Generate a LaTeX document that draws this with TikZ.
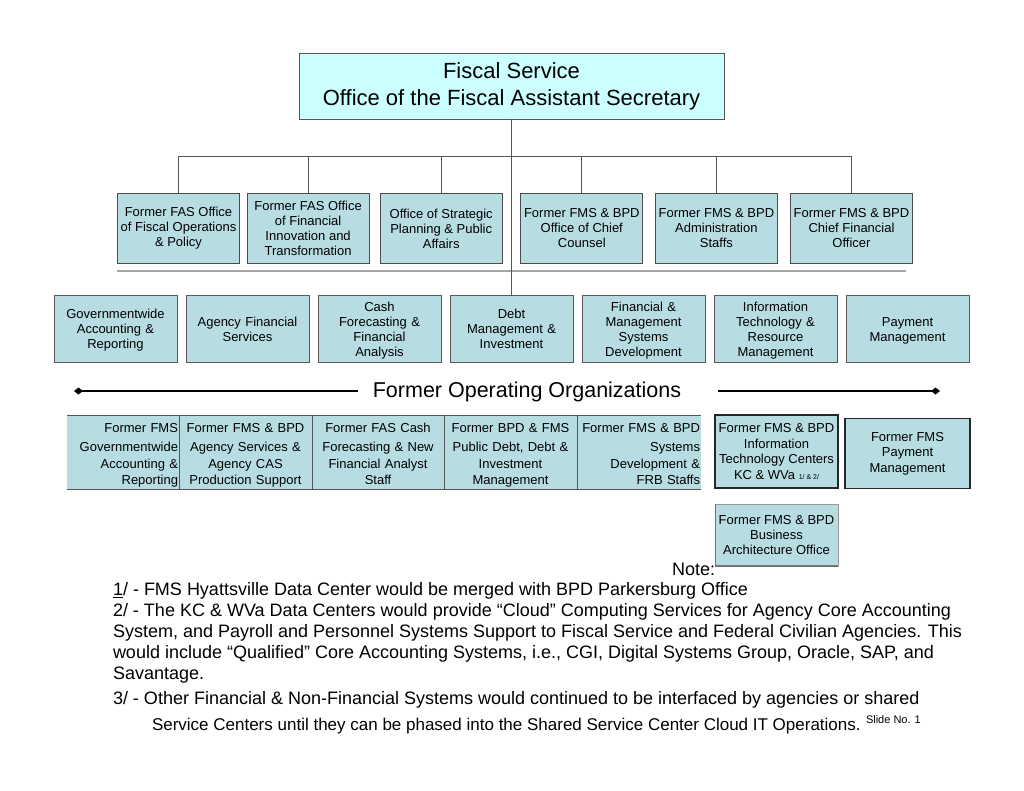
\documentclass[tikz,border=0pt]{standalone}
\usepackage{fontspec}
\setmainfont{Liberation Sans}
\usetikzlibrary{positioning,arrows.meta,trees}
\definecolor{headfill}{RGB}{204,255,255}
\definecolor{unitfill}{RGB}{183,221,227}
\definecolor{rulegray}{RGB}{85,85,85}
\tikzset{outer sep=0pt}

\begin{document}
\begin{tikzpicture}[x=1pt,y=-1pt,
        level distance=142.5pt,sibling distance=134.6pt,
        head/.style={draw=rulegray,line width=0.9pt,fill=headfill,minimum width=425pt,minimum height=66pt,
            align=center,font=\fontsize{22}{27}\selectfont},
        office/.style={draw=black!70,line width=1pt,fill=unitfill,minimum width=122pt,minimum height=70pt,
            inner sep=1pt,align=center,font=\fontsize{13}{15}\selectfont},
        unit/.style={draw=black!65,line width=0.7pt,fill=unitfill,text width=121pt,minimum height=67pt,
            inner xsep=1pt,inner ysep=0pt,align=center,font=\fontsize{13}{15}\selectfont,
            execute at begin node=\rule{0pt}{14.5pt},execute at end node=\strut},
        tabcell/.style={fill=unitfill,text width=#1,minimum height=73pt,inner xsep=1pt,inner ysep=0pt,
            font=\fontsize{13}{16.5}\selectfont,
            execute at begin node=\rule{0pt}{17.5pt},execute at end node=\strut},
        center cell/.style={tabcell=#1,align=center},
        right cell/.style={tabcell=#1,align=right},
        tablerule/.style={draw=rulegray,line width=0.8pt},
        centerbox/.style={draw=black!85,line width=1.3pt,fill=unitfill,minimum width=123pt,minimum height=73pt,
            inner sep=1pt,align=center,font=\fontsize{13}{15.5}\selectfont},
        opline/.style={line width=2.2pt,-{Diamond[length=9pt,width=7pt]}},
        note/.style={anchor=base west,inner sep=0pt,font=\fontsize{18}{21}\selectfont},
        edge from parent/.style={draw=rulegray,line width=0.7pt},
        edge from parent path={(\tikzparentnode.south) -- +(0pt,-37pt) -| (\tikzchildnode.north)}]
    \useasboundingbox (0,0) rectangle (1024,791);

    % top office and the staff offices
    \node[head] (fss) at (511.5,86) {Fiscal Service\\Office of the Fiscal Assistant Secretary}
        child[xshift=3.5pt]{node[office] (fops) {Former FAS Office\\of Fiscal Operations\\\& Policy}}
        child[xshift=-1.5pt]{node[office] (finnov) {Former FAS Office\\of Financial\\Innovation and\\Transformation}}
        child[xshift=-3pt]{node[office] (strat) {Office of Strategic\\Planning \& Public\\Affairs}}
        child[xshift=3pt]{node[office] (counsel) {Former FMS \& BPD\\Office of Chief\\Counsel}}
        child[xshift=3pt]{node[office] (admin) {Former FMS \& BPD\\Administration\\Staffs}}
        child[xshift=3.5pt]{node[office] (cfo) {Former FMS \& BPD\\Chief Financial\\Officer}};
    \draw[line width=1.5pt,black!35] (117,271) -- (906,271);

    % operating units
    \node[unit] (debt) at (511.5,328.5) {Debt\\Management \&\\Investment};
    \node[unit,left=9pt of debt] (cash) {Cash\\Forecasting \&\\Financial\\Analysis};
    \node[unit,left=9pt of cash] (agency) {Agency Financial\\Services};
    \node[unit,left=9pt of agency] (gwide) {Governmentwide\\Accounting \&\\Reporting};
    \node[unit,right=9pt of debt] (fmsd) {Financial \&\\Management\\Systems\\Development};
    \node[unit,right=9pt of fmsd] (itrm) {Information\\Technology \&\\Resource\\Management};
    \node[unit,right=9pt of itrm] (paym) {Payment\\Management};
    \draw[rulegray,line width=0.7pt] (fss.south) -- (debt.north);

    % former operating organizations
    \node[font=\fontsize{21.5}{26}\selectfont] (formerops) at (527,392) {Former Operating Organizations};
    \coordinate (leftend) at (74,391);
    \coordinate (rightend) at (940,391);
    \draw[opline,shorten <=12pt] (formerops.west |- leftend) -- (leftend);
    \draw[opline,shorten <=34pt] (formerops.east |- rightend) -- (rightend);

    \node[right cell=110pt,anchor=north west] (tgwide) at (67,415)
        {Former FMS\\[2.5pt]Governmentwide\\Accounting \&\\Reporting};
    \node[center cell=131pt,right=0pt of tgwide] (tagency)
        {Former FMS \& BPD\\[2.5pt]Agency Services \&\\Agency CAS\\Production Support};
    \node[center cell=130pt,right=0pt of tagency] (tcash)
        {Former FAS Cash\\[2.5pt]Forecasting \& New\\Financial Analyst\\Staff};
    \node[center cell=131pt,right=0pt of tcash] (tdebt)
        {Former BPD \& FMS\\[2.5pt]Public Debt, Debt \&\\Investment\\Management};
    \node[right cell=122pt,right=0pt of tdebt] (tsys)
        {Former FMS \& BPD\\[2.5pt]Systems\\Development \&\\FRB Staffs};
    \draw[tablerule] (tgwide.north west) -- (tsys.north east);
    \draw[tablerule] (tgwide.south west) -- (tsys.south east);
    \draw[tablerule] (tgwide.north east) -- (tgwide.south east);
    \draw[tablerule] (tagency.north east) -- (tagency.south east);
    \draw[tablerule] (tcash.north east) -- (tcash.south east);
    \draw[tablerule] (tdebt.north east) -- (tdebt.south east);

    \node[centerbox] (itcenters) at (776.5,451.5)
        {Former FMS \& BPD\\Information\\Technology Centers\\KC \& WVa {\fontsize{7}{8}\selectfont 1/ \& 2/}};
    \node[centerbox,minimum width=125pt,minimum height=70pt] (paycenter) at (907.5,453.5)
        {Former FMS\\Payment\\Management};
    \node[office,draw=black!40,line width=0.7pt,minimum width=123pt,minimum height=62pt] (bizarch) at (776.5,535)
        {Former FMS \& BPD\\Business\\Architecture Office};
    \draw[black!55,line width=1.5pt] (bizarch.south west) -- (bizarch.south east);
    \draw[black!55,line width=1pt] (bizarch.south west) -- (bizarch.north west);

    % notes
    \node[note] (notehead) at (672,575) {Note:};
    \node[note] (note1) at (113,595.5) {\underline{1}/ - FMS Hyattsville Data Center would be merged with BPD Parkersburg Office};
    \node[note] (note2a) at (113,616.5) {2/ - The KC \& WVa Data Centers would provide “Cloud” Computing Services for Agency Core Accounting};
    \node[note] (note2b) at (113,637.5) {System, and Payroll and Personnel Systems Support to Fiscal Service and Federal Civilian Agencies. This};
    \node[note] (note2c) at (113,658.5) {would include “Qualified” Core Accounting Systems, i.e., CGI, Digital Systems Group, Oracle, SAP, and};
    \node[note] (note2d) at (113,679.5) {Savantage.};
    \node[note] (note3a) at (113,704.5) {3/ - Other Financial \& Non-Financial Systems would continued to be interfaced by agencies or shared};
    \node[note,font=\fontsize{17}{20}\selectfont] (note3b) at (152,730.5) {Service Centers until they can be phased into the Shared Service Center Cloud IT Operations.};
    \node[note,font=\fontsize{11}{12}\selectfont] (slide) at (866,723) {Slide No. 1};
\end{tikzpicture}
\end{document}
